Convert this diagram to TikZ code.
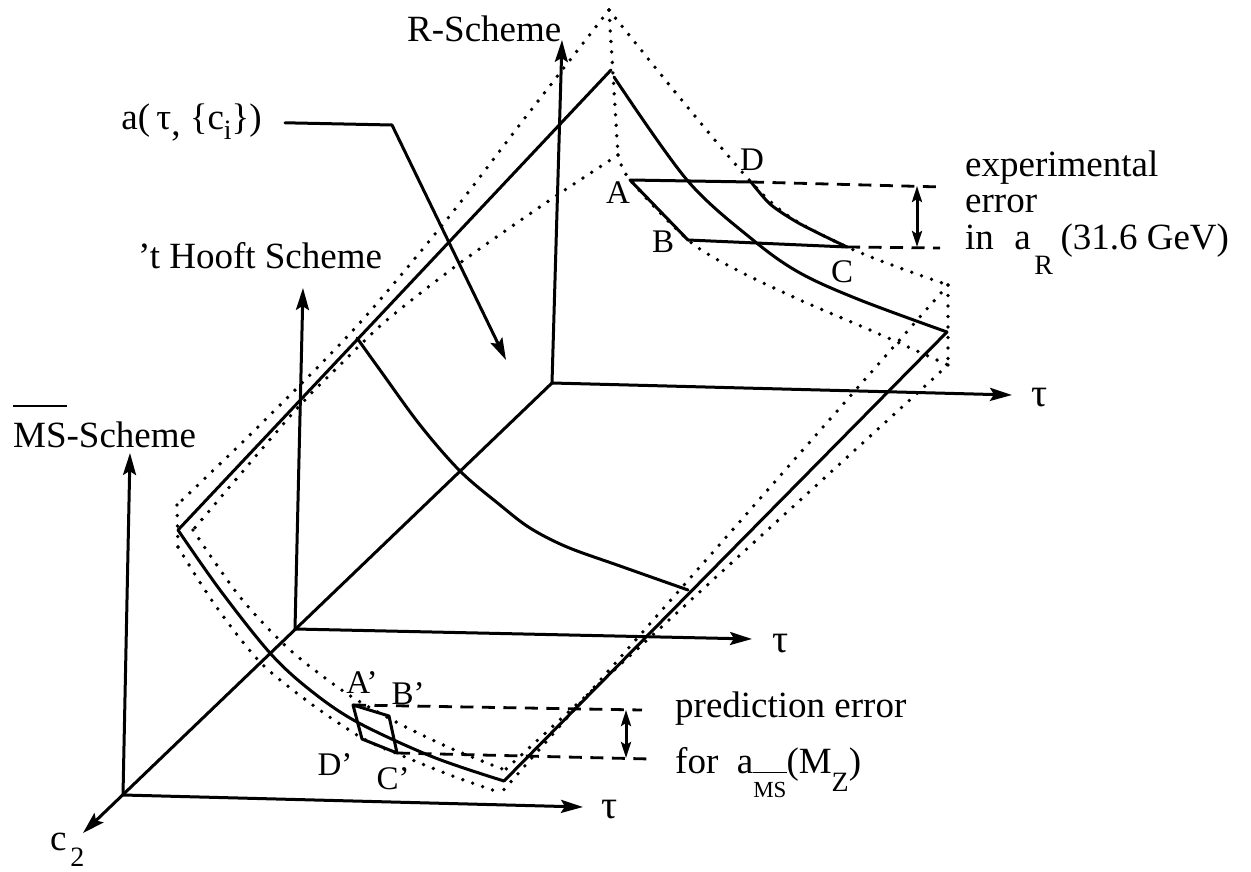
\documentclass[tikz,border=0pt]{standalone}
\usepackage{fontspec}
\setmainfont{Liberation Serif}
\usetikzlibrary{arrows.meta}
\newcommand\ovbar[2]{\setbox0\hbox{#2}\rlap{\rule[#1]{\wd0}{0.065em}}\box0}
\begin{document}
\begin{tikzpicture}[x=1pt,y=-1pt,
  ln/.style={line width=3pt, line cap=round, line join=round},
  dotl/.style={line width=3.8pt, line cap=round, dash pattern=on 0pt off 10.5pt},
  dsh/.style={line width=2.8pt, dash pattern=on 13pt off 8.5pt},
  ax/.style={ln, -{Stealth[length=22pt,width=13pt,inset=4pt]}},
  dbl/.style={ln, {Stealth[length=16pt,width=10pt,inset=3pt]}-{Stealth[length=16pt,width=10pt,inset=3pt]}},
  lab/.style={inner sep=0pt, font=\fontsize{37}{40}\selectfont},
  ptl/.style={inner sep=0pt, font=\fontsize{33}{36}\selectfont}]
\useasboundingbox (0,0) rectangle (1251,872);
% origins and axis ends
\coordinate (OR) at (552,383);
\coordinate (OT) at (295,629);
\coordinate (OM) at (123,795);
\coordinate (RTop) at (562,40);
\coordinate (TTop) at (303,288);
\coordinate (MTop) at (130,453);
\coordinate (RTau) at (1012,395);
\coordinate (TTau) at (752,639);
\coordinate (MTau) at (583,807);
\coordinate (C2tip) at (83,833);
% axes
\draw[ax] (OR) -- (RTop);
\draw[ax] (OR) -- (RTau);
\draw[ax] (OR) -- (C2tip);
\draw[ax] (OT) -- (TTop);
\draw[ax] (OT) -- (TTau);
\draw[ax] (OM) -- (MTop);
\draw[ax] (OM) -- (MTau);
% solid surface
\coordinate (SRa) at (611,70);
\coordinate (SMa) at (178,530);
\coordinate (SRc) at (947,332);
\coordinate (SMc) at (504,781);
\draw[ln] (SRa) -- (SMa);
\draw[ln] (SRc) -- (SMc);
\draw[ln] plot[smooth,tension=0.55] coordinates {(614,77) (687,180) (753,240) (800,273) (860,300) (SRc)};
\draw[ln] plot[smooth,tension=0.55] coordinates {(SMa) (220,590) (270,653) (310,690) (357,722) (433,757) (SMc)};
\draw[ln] plot[smooth,tension=0.55] coordinates {(357,338) (380,370) (420,425) (460,471) (500,505) (530,528) (567,547) (620,566) (688,590)};
% dotted error sheets
\coordinate (URa) at (609,10);
\coordinate (LRa) at (618,155);
\coordinate (URc) at (948,285);
\coordinate (LRc) at (948,365);
\coordinate (UMa) at (177,505);
\coordinate (UMb) at (178,547);
\coordinate (LMa) at (193,530);
\coordinate (OEnd) at (501,793);
\coordinate (IEnd) at (505,770);
\draw[dotl] plot[smooth,tension=0.5] coordinates {(URa) (680,98) (751,182) (790,217) (847,247) (900,268) (URc)};
\draw[dotl] (URa) -- (LRa);
\draw[dotl] plot[smooth,tension=0.5] coordinates {(LRa) (630,180) (688,240) (733,268) (800,300) (870,330) (LRc)};
\draw[dotl] (URc) -- (LRc);
\draw[dotl] plot[smooth,tension=0.5] coordinates {(URa) (528,114) (448,218) (357,326) (260,425) (UMa)};
\draw[dotl] plot[smooth,tension=0.5] coordinates {(LRa) (550,200) (460,263) (387,320) (340,365) (293,413) (LMa)};
\draw[dotl] (UMa) -- (UMb);
\draw[dotl] plot[smooth,tension=0.5] coordinates {(UMb) (215,605) (260,662) (310,703) (362,738) (398,754) (450,775) (OEnd)};
\draw[dotl] plot[smooth,tension=0.5] coordinates {(LMa) (240,597) (290,650) (346,693) (396,722) (450,748) (IEnd)};
\draw[dotl] (URc) -- (OEnd);
\draw[dotl] (LRc) -- (IEnd);
% R parallelogram
\coordinate (A) at (630,180);
\coordinate (D) at (751,182);
\coordinate (C) at (847,247);
\coordinate (B) at (688,240);
\draw[ln] (B) -- (A) -- (D);
\draw[ln] plot[smooth,tension=0.5] coordinates {(D) (770,204) (795,221) (820,234) (C)};
\draw[ln] (C) -- (B);
% MS parallelogram
\coordinate (Ap) at (353,705);
\coordinate (Bp) at (389,716);
\coordinate (Cp) at (397,753);
\coordinate (Dp) at (362,739);
\draw[ln] (Ap) -- (Bp) -- (Cp) -- (Dp) -- cycle;
% error lines
\coordinate (Dend) at (942,187);
\coordinate (Cend) at (940,248);
\coordinate (Apend) at (642,710);
\coordinate (Cpend) at (650,759);
\draw[dsh] (D) -- (Dend);
\draw[dsh] (C) -- (Cend);
\draw[dsh] (Ap) -- (Apend);
\draw[dsh] (Cp) -- (Cpend);
\coordinate (e1) at (917,186);
\coordinate (e2) at (917,247);
\coordinate (p1) at (626,710);
\coordinate (p2) at (626,758);
\draw[dbl] (e1) -- (e2);
\draw[dbl] (p1) -- (p2);
% labels
\node[lab, anchor=base west] (rs) at (407,42) {R-Scheme};
\node[lab, anchor=base west] (ts) at (138,268) {’t Hooft Scheme};
\node[lab, anchor=base west] (ms) at (13,447) {\ovbar{1.08em}{MS}-Scheme};
\node[lab, anchor=base east] (alab) at (262,130) {a(\,τ\raisebox{-0.15em}{,} \{c\raisebox{-0.25em}{\fontsize{28}{28}\selectfont i}\})};
\coordinate (aTip) at (506,360);
\draw[ln, -{Stealth[length=22pt,width=13pt,inset=4pt]}] ([xshift=23pt]alab.east) -- (392,125) -- (aTip);
\node[lab, font=\fontsize{40}{40}\selectfont] (tauR) at (1040,398) {τ};
\node[lab, font=\fontsize{40}{40}\selectfont] (tauT) at (781,644) {τ};
\node[lab, font=\fontsize{40}{40}\selectfont] (tauM) at (610,810) {τ};
\node[lab, anchor=base west] (c2) at (50,850) {c\hspace{0.1em}\raisebox{-0.45em}{\fontsize{28}{28}\selectfont 2}};
\node[lab, anchor=base west] (ex1) at (965,176) {experimental};
\node[lab, anchor=base west] (ex2) at (965,212) {error};
\node[lab, anchor=base west] (ex3) at (965,249) {in\hspace{0.55em}a\hspace{0.1em}\raisebox{-0.7em}{\fontsize{28}{28}\selectfont R}\hspace{0.2em}(31.6 GeV)};
\node[lab, anchor=base west] (pr1) at (675,717) {prediction error};
\node[lab, anchor=base west] (pr2) at (675,773) {for\hspace{0.5em}a\raisebox{-0.65em}{\fontsize{23}{23}\selectfont\ovbar{1.04em}{MS}}(M\raisebox{-0.5em}{\fontsize{28}{28}\selectfont Z})};
\node[ptl] (lA) at (618,193) {A};
\node[ptl] (lB) at (663,242) {B};
\node[ptl] (lC) at (842,272) {C};
\node[ptl] (lD) at (752,160) {D};
\node[ptl] (lAp) at (362,683) {A’};
\node[ptl] (lBp) at (408,694) {B’};
\node[ptl] (lDp) at (335,765) {D’};
\node[ptl] (lCp) at (393,779) {C’};
\end{tikzpicture}
\end{document}
